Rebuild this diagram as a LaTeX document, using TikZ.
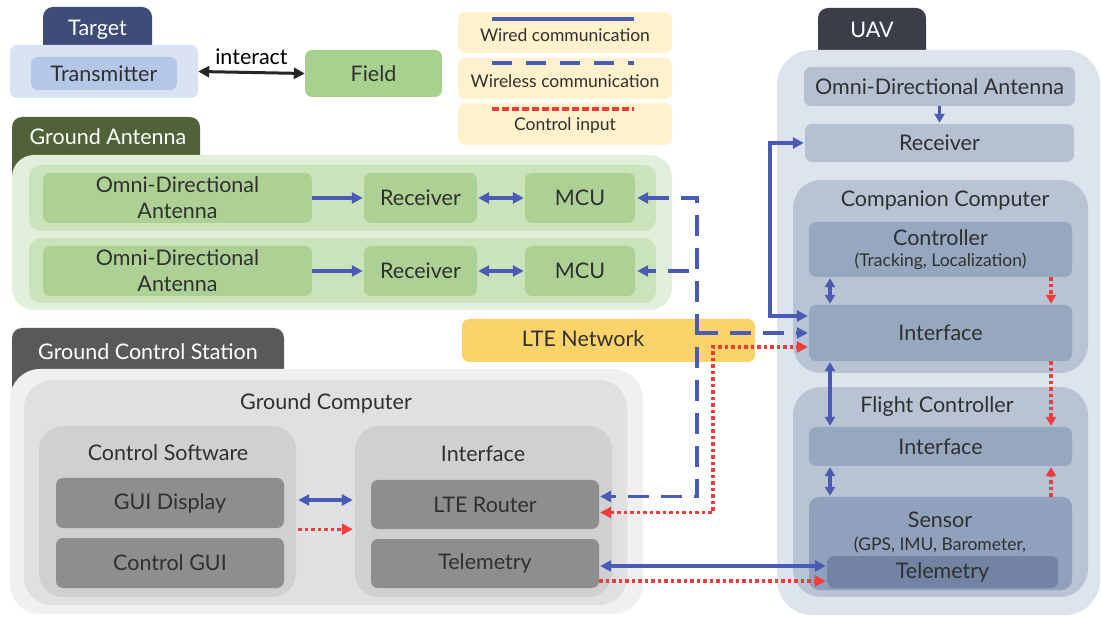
\documentclass[tikz,border=0pt]{standalone}
\usepackage{fontspec}
\setmainfont{Lato}
\usetikzlibrary{arrows.meta,calc}

\definecolor{ink}{HTML}{303030}
\definecolor{navy}{HTML}{3F4B78}
\definecolor{tgtbody}{HTML}{DAE3F3}
\definecolor{tgtin}{HTML}{B4C7E7}
\definecolor{fieldg}{HTML}{A9D18E}
\definecolor{legy}{HTML}{FFF2CC}
\definecolor{wireblue}{HTML}{4A5BB5}
\definecolor{ctlred}{HTML}{F03C3C}
\definecolor{gatab}{HTML}{4F6238}
\definecolor{gabody}{HTML}{E2EFDA}
\definecolor{garow}{HTML}{CBE3BA}
\definecolor{gabox}{HTML}{ADD194}
\definecolor{gcstab}{HTML}{595959}
\definecolor{gcsbody}{HTML}{F0F0F0}
\definecolor{gcbox}{HTML}{E0E0E2}
\definecolor{swbox}{HTML}{D0D0D3}
\definecolor{darkbox}{HTML}{8E8E8E}
\definecolor{ltey}{HTML}{FAD46A}
\definecolor{uavtab}{HTML}{3B3E48}
\definecolor{uavbody}{HTML}{DEE4ED}
\definecolor{uavlight}{HTML}{B5C0D1}
\definecolor{ccbox}{HTML}{B8C3D3}
\definecolor{ctrlbox}{HTML}{96A7C0}
\definecolor{sensbox}{HTML}{8FA1BD}
\definecolor{telbox}{HTML}{7283A3}

\newcommand\lbl{\fontsize{21.5}{26}\selectfont}
\newcommand\sml{\fontsize{17.5}{20}\selectfont}
\newcommand\lgd{\fontsize{17.5}{20}\selectfont}

\tikzset{
  bigtri/.tip={Triangle[length=11pt,width=11pt]},
  smalltri/.tip={Triangle[length=9pt,width=10pt]},
  bx/.style={rectangle, rounded corners=7pt, inner sep=0pt, text=ink, font=\lbl, align=center},
  tabbox/.style={rectangle, rounded corners=10pt, inner sep=0pt},
  tabtext/.style={text=white, font=\lbl, inner sep=0pt},
  captxt/.style={text=ink, font=\lbl, inner sep=0pt},
  wrd/.style={draw=wireblue, line width=3.2pt, -{bigtri}, shorten >=1pt},
  wls/.style={wrd, dash pattern=on 21pt off 12pt},
  ctl/.style={draw=ctlred, line width=3.2pt, dash pattern=on 3.5pt off 3pt, -{bigtri}, shorten >=1pt},
}

\begin{document}
\begin{tikzpicture}[x=1pt,y=-1pt]
\useasboundingbox (0,0) rectangle (1101,617);

% ---------------- Target ----------------
\node[tabbox, fill=navy, minimum width=109pt, minimum height=53pt] (tgttab) at (97.5,33.5) {};
\node[tabtext] (tgtlbl) at (97.5,30) {Target};
\node[bx, fill=tgtbody, minimum width=188pt, minimum height=53pt] (tgt) at (104,71.5) {};
\node[bx, fill=tgtin, minimum width=146pt, minimum height=33pt] (tx) at (104,73.5) {Transmitter};
\node[bx, fill=fieldg, minimum width=137pt, minimum height=47pt] (field) at (373.5,73.5) {Field};
\draw[draw=black!85, line width=3pt, {bigtri}-{bigtri}]
  (tgt.east) -- (field.west) node[midway, above=6pt, text=black, font=\lbl, inner sep=0pt] (intlbl) {interact};

% ---------------- Legend ----------------
\node[bx, fill=legy, minimum width=214pt, minimum height=41pt] (leg1) at (565,32.5) {};
\node[bx, fill=legy, minimum width=214pt, minimum height=41pt] (leg2) at (565,78.5) {};
\node[bx, fill=legy, minimum width=214pt, minimum height=42pt] (leg3) at (565,124) {};
\draw[draw=wireblue, line width=3.2pt] (492,19) -- (634,19);
\draw[draw=wireblue, line width=3.2pt, dash pattern=on 20pt off 14pt] (492,63) -- (634,63);
\draw[draw=ctlred, line width=3.2pt, dash pattern=on 7pt off 3pt] (492,109) -- (634,109);
\node[captxt, font=\lgd] (leg1t) at (565,35) {Wired communication};
\node[captxt, font=\lgd] (leg2t) at (565,81) {Wireless communication};
\node[captxt, font=\lgd] (leg3t) at (565,126) {Control input};

% ---------------- Ground Antenna ----------------
\node[tabbox, fill=gatab, minimum width=188pt, minimum height=68pt] (gatab) at (106,151) {};
\node[tabtext] (galbl) at (108,137) {Ground Antenna};
\node[bx, rounded corners=22pt, fill=gabody, minimum width=660pt, minimum height=155pt] (ga) at (342,232.5) {};
\node[bx, rounded corners=12pt, fill=garow, minimum width=627pt, minimum height=66pt] (row1) at (342.5,198) {};
\node[bx, rounded corners=12pt, fill=garow, minimum width=627pt, minimum height=65pt] (row2) at (342.5,270.5) {};
\node[bx, fill=gabox, minimum width=269pt, minimum height=50pt] (omni1) at (177.5,198) {Omni-Directional\\Antenna};
\node[bx, fill=gabox, minimum width=113pt, minimum height=50pt] (recv1) at (420.5,198) {Receiver};
\node[bx, fill=gabox, minimum width=110pt, minimum height=50pt] (mcu1) at (580,198) {MCU};
\node[bx, fill=gabox, minimum width=269pt, minimum height=50pt] (omni2) at (177.5,271) {Omni-Directional\\Antenna};
\node[bx, fill=gabox, minimum width=113pt, minimum height=50pt] (recv2) at (420.5,271) {Receiver};
\node[bx, fill=gabox, minimum width=110pt, minimum height=50pt] (mcu2) at (580,271) {MCU};
\draw[wrd] (omni1.east) -- (recv1.west);
\draw[wrd, {bigtri}-{bigtri}, shorten <=1pt] (recv1.east) -- (mcu1.west);
\draw[wrd] (omni2.east) -- (recv2.west);
\draw[wrd, {bigtri}-{bigtri}, shorten <=1pt] (recv2.east) -- (mcu2.west);

% ---------------- LTE Network ----------------
\node[bx, fill=ltey, minimum width=293pt, minimum height=43pt] (lte) at (608.5,340.5) {};
\node[captxt] (ltelbl) at (583,339) {LTE Network};

% ---------------- Ground Control Station ----------------
\node[tabbox, fill=gcstab, minimum width=272pt, minimum height=82pt] (gcstab) at (148,369) {};
\node[tabtext] (gcslbl) at (148,352) {Ground Control Station};
\node[bx, rounded corners=30pt, fill=gcsbody, minimum width=633pt, minimum height=245pt] (gcs) at (326.5,491.5) {};
\node[bx, rounded corners=28pt, fill=gcbox, minimum width=603pt, minimum height=225pt] (gc) at (325.5,492.5) {};
\node[captxt] (gclbl) at (326,403) {Ground Computer};
\node[bx, rounded corners=24pt, fill=swbox, minimum width=257pt, minimum height=171pt] (sw) at (167.5,511.5) {};
\node[captxt] (swlbl) at (168,453) {Control Software};
\node[bx, rounded corners=24pt, fill=swbox, minimum width=257pt, minimum height=171pt] (ifc) at (483.5,511.5) {};
\node[captxt] (ifclbl) at (483,454) {Interface};
\node[bx, fill=darkbox, minimum width=228pt, minimum height=50pt] (gui) at (170,503) {GUI Display};
\node[bx, fill=darkbox, minimum width=228pt, minimum height=50pt] (cgui) at (170,563) {Control GUI};
\node[bx, fill=darkbox, minimum width=228pt, minimum height=49pt] (router) at (485,504.5) {LTE Router};
\node[bx, fill=darkbox, minimum width=228pt, minimum height=49pt] (gtel) at (485,563.5) {Telemetry};
\draw[wrd, {bigtri}-{bigtri}, shorten <=2pt, shorten >=2pt]
  ($(sw.east |- gui.east)+(0,-3)$) -- ($(ifc.west |- gui.east)+(0,-3)$);
\draw[ctl, shorten <=2pt, shorten >=2pt]
  ($(sw.east |- gui.south)+(0,1)$) -- ($(ifc.west |- gui.south)+(0,1)$);

% ---------------- UAV ----------------
\node[tabbox, fill=uavtab, minimum width=108pt, minimum height=62pt] (uavtab) at (872,39) {};
\node[tabtext] (uavlbl) at (872,30) {UAV};
\node[bx, rounded corners=35pt, fill=uavbody, minimum width=323pt, minimum height=565pt] (uav) at (938.5,332.5) {};
\node[bx, fill=uavlight, minimum width=271pt, minimum height=39pt] (uomni) at (939.5,86.5) {Omni-Directional Antenna};
\node[bx, fill=uavlight, minimum width=269pt, minimum height=38pt] (urecv) at (939.5,143) {Receiver};
\node[bx, rounded corners=28pt, fill=ccbox, minimum width=295pt, minimum height=193pt] (cc) at (940.5,276.5) {};
\node[captxt] (cclbl) at (945,201) {Companion Computer};
\node[bx, fill=ctrlbox, minimum width=263pt, minimum height=55pt] (ctrl) at (940.5,249.5)
  {Controller\\[-5pt]{\sml (Tracking, Localization)}};
\node[bx, fill=ctrlbox, minimum width=263pt, minimum height=56pt] (ccif) at (940.5,333) {Interface};
\node[bx, rounded corners=28pt, fill=ccbox, minimum width=295pt, minimum height=210pt] (fc) at (940.5,492) {};
\node[captxt] (fclbl) at (937,407) {Flight Controller};
\node[bx, fill=ctrlbox, minimum width=263pt, minimum height=39pt] (fcif) at (940.5,446.5) {Interface};
\node[bx, rounded corners=10pt, fill=sensbox, minimum width=263pt, minimum height=93pt] (sens) at (940.5,543.5) {};
\node[captxt] (senslbl) at (940,520) {Sensor};
\node[captxt, font=\sml] (sensdet) at (940,545) {(GPS, IMU, Barometer,};
\node[bx, fill=telbox, minimum width=231pt, minimum height=32pt] (utel) at (942.5,572) {Telemetry};

% vertical links inside the UAV
\coordinate (vx) at (830,0);
\coordinate (rx) at (1051,0);
\draw[wrd, -{smalltri}] (uomni.south) -- (urecv.north);
\draw[wrd, {smalltri}-{smalltri}, shorten <=1pt] (ctrl.south -| vx) -- (ccif.north -| vx);
\draw[wrd, {smalltri}-{smalltri}, shorten <=1pt] (ccif.south -| vx) -- (fcif.north -| vx);
\draw[wrd, {smalltri}-{smalltri}, shorten <=1pt] (fcif.south -| vx) -- (sens.north -| vx);
\draw[ctl, -{smalltri}] (ctrl.south -| rx) -- (ccif.north -| rx);
\draw[ctl, -{smalltri}] (ccif.south -| rx) -- (fcif.north -| rx);
\draw[ctl, -{smalltri}] (sens.north -| rx) -- (fcif.south -| rx);

% ---------------- Links between ground and UAV ----------------
\coordinate (wbus) at (697,0);
\coordinate (rbus) at (713,0);
\coordinate (sbus) at (770,0);
% wireless
\draw[wls, {bigtri}-{bigtri}, shorten <=2pt]
  (mcu1.east) -- (mcu1.east -| wbus) -- ($(router.east -| wbus)+(0,-8)$) -- ($(router.east)+(0,-8)$);
\draw[wls, shorten >=2pt] ($(mcu2.east -| wbus)+(-8,0)$) -- (mcu2.east);
\draw[wls] (ccif.west -| wbus) -- (ccif.west);
% control input
\draw[ctl, {bigtri}-{bigtri}, shorten <=1pt]
  ($(router.east)+(0,8)$) -- ($(router.east -| rbus)+(0,8)$) -- ($(ccif.west -| rbus)+(0,14)$) -- ($(ccif.west)+(0,14)$);
% wired to the UAV receiver and companion interface
\draw[wrd, {bigtri}-{bigtri}, shorten <=1pt]
  (urecv.west) -- (urecv.west -| sbus) -- ($(ccif.west -| sbus)+(0,-17)$) -- ($(ccif.west)+(0,-17)$);
% telemetry
\draw[wrd, {bigtri}-{bigtri}, shorten <=1pt]
  ($(gtel.east)+(0,2.5)$) -- ($(utel.west |- gtel.east)+(0,2.5)$);
\draw[ctl] ($(gtel.east)+(0,17.5)$) -- ($(utel.west |- gtel.east)+(0,17.5)$);

\end{tikzpicture}
\end{document}
